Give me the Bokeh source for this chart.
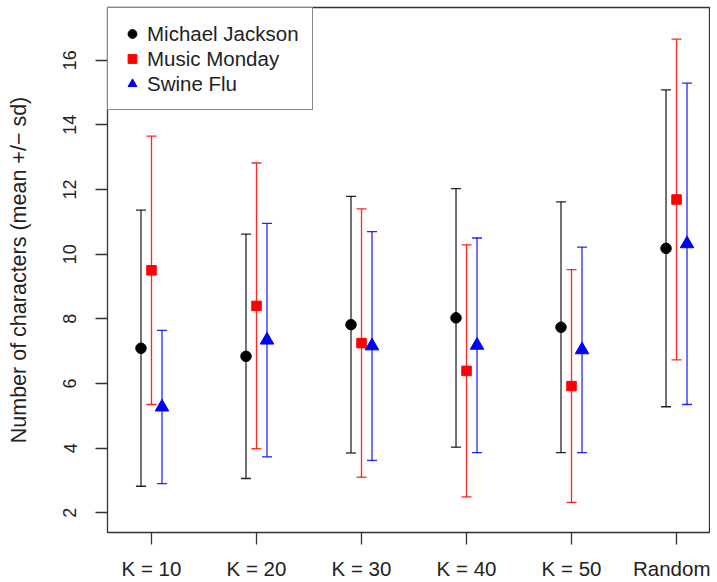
from bokeh.plotting import figure
from bokeh.models import ColumnDataSource, Whisker, TeeHead, FixedTicker, Range1d, Legend
from bokeh.transform import dodge
from bokeh.embed import file_html
from bokeh.resources import INLINE

categories = ["K = 10", "K = 20", "K = 30", "K = 40", "K = 50", "Random"]
series_names = ["Michael Jackson", "Music Monday", "Swine Flu"]
mj_mean = [7.09, 6.84, 7.82, 8.03, 7.74, 10.18]
mj_sd = [4.27, 3.78, 3.97, 4.00, 3.88, 4.90]
mm_mean = [9.50, 8.40, 7.25, 6.39, 5.92, 11.69]
mm_sd = [4.15, 4.42, 4.15, 3.90, 3.60, 4.96]
sf_mean = [5.27, 7.34, 7.16, 7.18, 7.04, 10.32]
sf_sd = [2.37, 3.61, 3.54, 3.32, 3.18, 4.97]
y_ticks = [2, 4, 6, 8, 10, 12, 14, 16]

FONT = "Liberation Sans"
TXT = "#222222"

p = figure(width=710, height=582, output_backend="svg", toolbar_location=None,
           x_range=Range1d(0.581, 6.314), y_range=Range1d(1.39, 17.63),
           min_border_left=107, min_border_right=1, min_border_top=7, min_border_bottom=49,
           background_fill_color="white", border_fill_color="white")
p.outline_line_color = "#333333"
p.outline_line_width = 1.3
p.xgrid.visible = False
p.ygrid.visible = False

xs = list(range(1, len(categories) + 1))

specs = [
    (series_names[0], mj_mean, mj_sd, "#000000", "circle", 10.5, -0.1),
    (series_names[1], mm_mean, mm_sd, "#FF0000", "square", 9.5, 0.0),
    (series_names[2], sf_mean, sf_sd, "#0000FF", "triangle", 13.5, 0.1),
]

items = []
for name, mean, sd, color, marker, size, off in specs:
    src = ColumnDataSource(dict(
        x=xs, mean=mean,
        upper=[m + s for m, s in zip(mean, sd)],
        lower=[m - s for m, s in zip(mean, sd)],
    ))
    w = Whisker(base=dodge("x", off), upper="upper", lower="lower", source=src,
                dimension="height", line_color=color, line_width=1.3, line_alpha=0.85,
                upper_head=TeeHead(size=10, line_color=color, line_width=1.3, line_alpha=0.85),
                lower_head=TeeHead(size=10, line_color=color, line_width=1.3, line_alpha=0.85))
    p.add_layout(w)
    r = p.scatter(x=dodge("x", off), y="mean", source=src, marker=marker, size=size,
                  fill_color=color, line_color=color)
    items.append((name, [r]))

legend = Legend(items=items, location="top_left")
legend.margin = 0
legend.padding = 13
legend.spacing = 0
legend.glyph_width = 22
legend.glyph_height = 25
legend.label_height = 25
legend.label_standoff = 4
legend.label_text_font = FONT
legend.label_text_font_size = "20.5px"
legend.label_text_color = TXT
legend.border_line_color = "#111111"
legend.border_line_width = 1.3
legend.background_fill_color = "white"
legend.background_fill_alpha = 1
p.add_layout(legend)

# x axis
p.xaxis.ticker = FixedTicker(ticks=xs)
p.xaxis.major_label_overrides = {x: c for x, c in zip(xs, categories)}
p.xaxis.major_tick_out = 12
p.xaxis.major_tick_in = 0
p.xaxis.minor_tick_line_color = None
p.xaxis.major_label_standoff = 12
p.xaxis.major_label_text_font = FONT
p.xaxis.major_label_text_font_size = "20.5px"
p.xaxis.major_label_text_color = TXT
p.xaxis.axis_line_color = "#333333"
p.xaxis.major_tick_line_color = "#333333"
p.xaxis.major_tick_line_width = 1.3

# y axis
p.yaxis.ticker = FixedTicker(ticks=y_ticks)
p.yaxis.major_tick_out = 12
p.yaxis.major_tick_in = 0
p.yaxis.minor_tick_line_color = None
p.yaxis.major_label_orientation = "vertical"
p.yaxis.major_label_standoff = 19
p.yaxis.major_label_text_font = FONT
p.yaxis.major_label_text_font_size = "18px"
p.yaxis.major_label_text_color = TXT
p.yaxis.axis_line_color = "#333333"
p.yaxis.major_tick_line_color = "#333333"
p.yaxis.major_tick_line_width = 1.3
p.yaxis.axis_label = "Number of characters (mean +/\u2212 sd)"
p.yaxis.axis_label_text_font = FONT
p.yaxis.axis_label_text_font_size = "21.5px"
p.yaxis.axis_label_text_font_style = "normal"
p.yaxis.axis_label_text_color = TXT
p.yaxis.axis_label_standoff = 30

open("out.html", "w").write(file_html(p, INLINE))
